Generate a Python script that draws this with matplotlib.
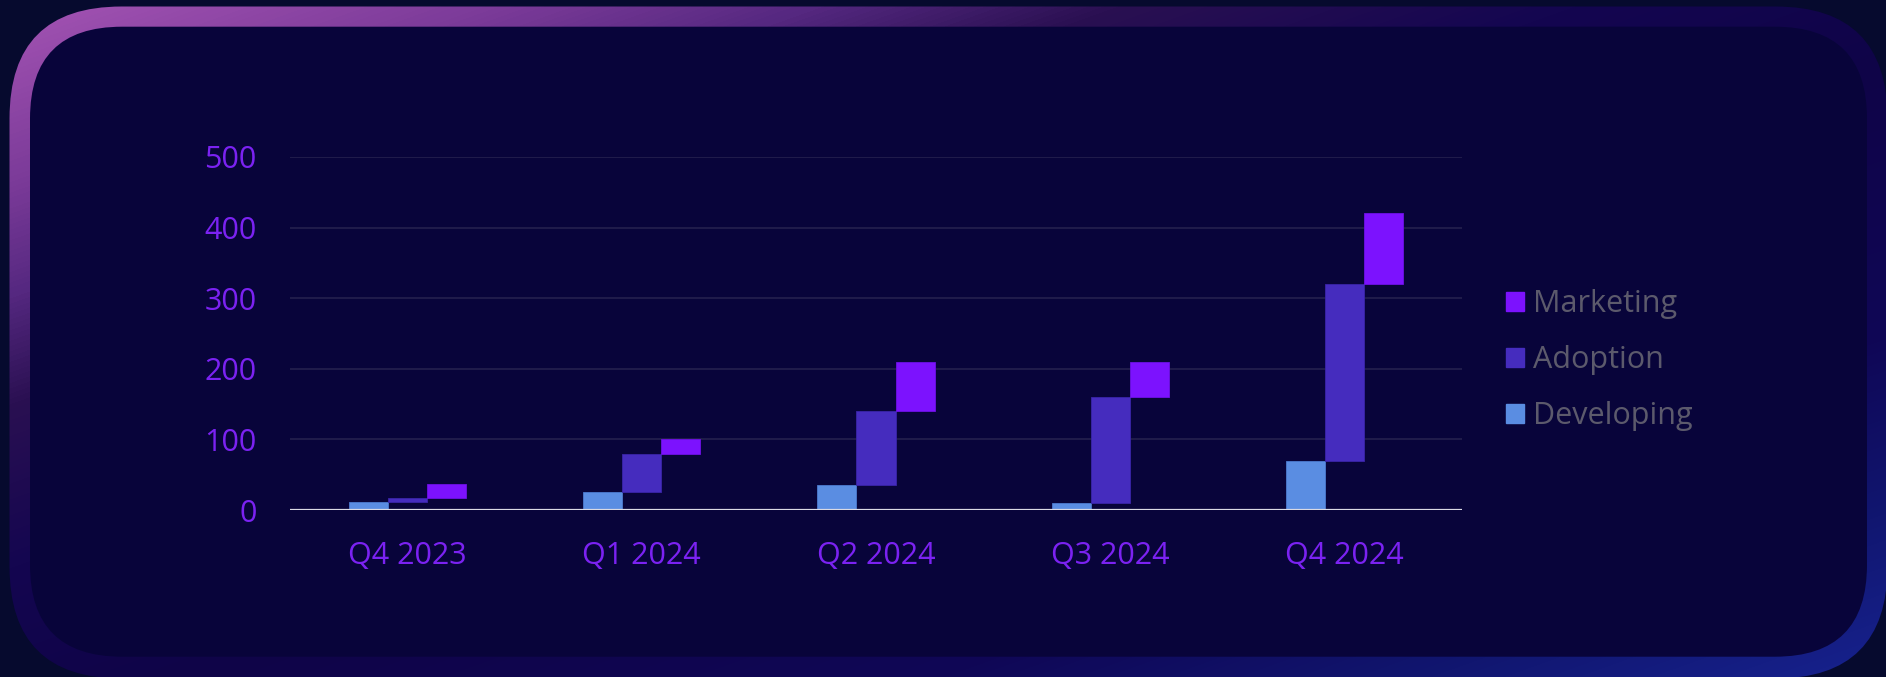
import numpy as np
import matplotlib
matplotlib.use("Agg")
import matplotlib.pyplot as plt
from matplotlib.patches import FancyBboxPatch, Patch
from matplotlib.colors import LinearSegmentedColormap

plt.rcParams['font.family'] = ['Open Sans', 'DejaVu Sans']

# ==============================
# 数据
# ==============================
quarters = ["Q4 2023", "Q1 2024", "Q2 2024", "Q3 2024", "Q4 2024"]
developing = [12, 25, 35, 10, 70]
adoption = [5, 55, 105, 150, 250]
marketing = [20, 20, 70, 50, 100]
y_ticks = [0, 100, 200, 300, 400, 500]

# 颜色
C_DEV = "#5A8DE2"
C_ADO = "#452CBE"
C_MKT = "#7C12FE"
C_TICK = "#7B22F2"
C_LEGEND = "#5C5A6C"

W, H = 1886, 677
fig = plt.figure(figsize=(W / 100, H / 100), dpi=100)
fig.patch.set_facecolor("#060A2E")

# ==============================
# 背景卡片 (渐变边框 + 圆角)
# ==============================
bg = fig.add_axes([0, 0, 1, 1], zorder=0)
bg.axis('off')

border_cmap = LinearSegmentedColormap.from_list("border", [
    (0.00, "#A655B5"),
    (0.14, "#7A3A98"),
    (0.22, "#552880"),
    (0.30, "#2A1052"),
    (0.42, "#140650"),
    (0.55, "#0F0448"),
    (0.75, "#0F0756"),
    (0.88, "#111670"),
    (1.00, "#17228F"),
])
xx, yy = np.meshgrid(np.arange(W) / W, np.arange(H) / H)
t = (xx + yy) / 2.0
outer = FancyBboxPatch((9.5, 6.5), 1878, 672,
                       boxstyle="round,pad=0,rounding_size=112",
                       facecolor="none", edgecolor="none")
bg.add_patch(outer)
img = bg.imshow(border_cmap(t), extent=(0, W, H, 0), aspect='auto', zorder=1)
img.set_clip_path(outer)

inner = FancyBboxPatch((30, 26.7), 1837, 630,
                       boxstyle="round,pad=0,rounding_size=92",
                       facecolor="#08043A", edgecolor="none", zorder=2)
bg.add_patch(inner)
bg.set_xlim(0, W)
bg.set_ylim(H, 0)

# ==============================
# 主图
# ==============================
ax = fig.add_axes([290 / W, 1 - 510 / H, (1462 - 290) / W, (510 - 157) / H], zorder=1)
ax.patch.set_alpha(0)

x = np.arange(len(quarters))
w = 1 / 6
dev = np.array(developing)
ado = np.array(adoption)
mkt = np.array(marketing)

ax.bar(x - w, dev, width=w, color=C_DEV, edgecolor="#4C7BCF", linewidth=0.6, zorder=3)
ax.bar(x, ado, width=w, bottom=dev, color=C_ADO, edgecolor="#3A25A8", linewidth=0.6, zorder=3)
ax.bar(x + w, mkt, width=w, bottom=dev + ado, color=C_MKT, edgecolor="#6E10E6", linewidth=0.6, zorder=3)

ax.set_xlim(-0.5, len(quarters) - 0.5)
ax.set_ylim(0, 500)
ax.set_yticks(y_ticks)
ax.set_xticks(x)
ax.set_xticklabels(quarters)

for yv in y_ticks[1:]:
    ax.axhline(yv, color="#221E4C", linewidth=1.3, zorder=1)
ax.axhline(0, color="#DADAE4", linewidth=1.6, zorder=4)

for spine in ax.spines.values():
    spine.set_visible(False)

ax.tick_params(axis='both', length=0, colors=C_TICK, labelsize=22)
ax.tick_params(axis='y', pad=24)
ax.tick_params(axis='x', pad=22)

handles = [Patch(color=C_MKT, label="Marketing"),
           Patch(color=C_ADO, label="Adoption"),
           Patch(color=C_DEV, label="Developing")]
leg = fig.legend(handles=handles, loc='upper left',
                 bbox_to_anchor=(1506 / W, 1 - 289 / H),
                 frameon=False, fontsize=22,
                 handlelength=0.58, handleheight=0.58,
                 handletextpad=0.31, labelspacing=0.85,
                 borderaxespad=0, borderpad=0)
for txt in leg.get_texts():
    txt.set_color(C_LEGEND)

fig.savefig("out.png", dpi=100, facecolor=fig.get_facecolor())
